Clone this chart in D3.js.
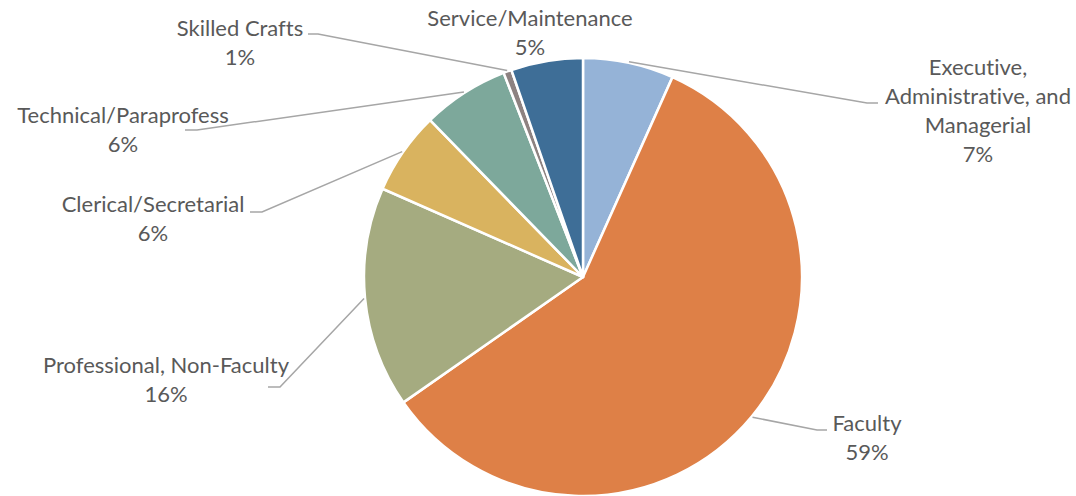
<!DOCTYPE html>
<html>
<head>
<meta charset="utf-8">
<script src="https://cdn.jsdelivr.net/npm/d3@7"></script>
<style>
  html, body { margin: 0; padding: 0; background: #fff; }
  svg { display: block; }
  text { font-family: Lato, "Open Sans", sans-serif; fill: #595959; font-variant-ligatures: none; font-feature-settings: "liga" 0, "dlig" 0; }
</style>
</head>
<body>
<svg id="chart" width="1076" height="496"></svg>
<script>
// ---- data ----
const categories = [
  "Executive, Administrative, and Managerial",
  "Faculty",
  "Professional, Non-Faculty",
  "Clerical/Secretarial",
  "Technical/Paraprofess",
  "Skilled Crafts",
  "Service/Maintenance"
];
const values = [6.7, 58.6, 16.3, 6.1, 6.4, 0.6, 5.3];
const colors = ["#95B3D7", "#DE8047", "#A5AB80", "#D9B35F", "#7DA89B", "#8D8281", "#3E6E97"];
const labelLines = [
  ["Executive,", "Administrative, and", "Managerial"],
  ["Faculty"],
  ["Professional, Non-Faculty"],
  ["Clerical/Secretarial"],
  ["Technical/Paraprofess"],
  ["Skilled Crafts"],
  ["Service/Maintenance"]
];

// ---- layout (label placement) ----
const cx = 583, cy = 277, R = 219;
const labelLayout = [
  { x: 978, y: 75,  elbow: [[867, 103], [878, 103]] },
  { x: 867, y: 431, elbow: [[817, 430], [827, 430]] },
  { x: 166, y: 373, elbow: [[280, 387], [268, 387]] },
  { x: 153, y: 212, elbow: [[262, 212], [250, 212]] },
  { x: 123, y: 123, elbow: [[197, 130], [185, 130]] },
  { x: 240, y: 36,  elbow: [[318, 34], [308, 34]] },
  { x: 530, y: 26,  elbow: null }
];
const lineH = 29;

const svg = d3.select("#chart");
const g = svg.append("g").attr("transform", `translate(${cx},${cy})`);

const total = d3.sum(values);
const pie = d3.pie().sort(null).value(d => d)(values);
const arc = d3.arc().innerRadius(0).outerRadius(R);

g.selectAll("path.slice")
  .data(pie)
  .join("path")
  .attr("class", "slice")
  .attr("d", arc)
  .attr("fill", (d, i) => colors[i])
  .attr("stroke", "#fff")
  .attr("stroke-width", 2.5)
  .attr("stroke-linejoin", "round");

// leader lines
const line = d3.line();
pie.forEach((d, i) => {
  const L = labelLayout[i];
  if (!L.elbow) return;
  const a = (d.startAngle + d.endAngle) / 2;
  const p0 = [cx + (R + 1) * Math.sin(a), cy - (R + 1) * Math.cos(a)];
  svg.append("path")
    .attr("d", line([p0, ...L.elbow]))
    .attr("fill", "none")
    .attr("stroke", "#A6A6A6")
    .attr("stroke-width", 1.5);
});

// labels
pie.forEach((d, i) => {
  const L = labelLayout[i];
  const t = svg.append("text")
    .attr("text-anchor", "middle")
    .attr("font-size", 22);
  const lines = labelLines[i].concat([Math.round(values[i] / total * 100) + "%"]);
  lines.forEach((s, k) => {
    t.append("tspan").attr("x", L.x).attr("y", L.y + k * lineH).text(s);
  });
});
</script>
</body>
</html>
